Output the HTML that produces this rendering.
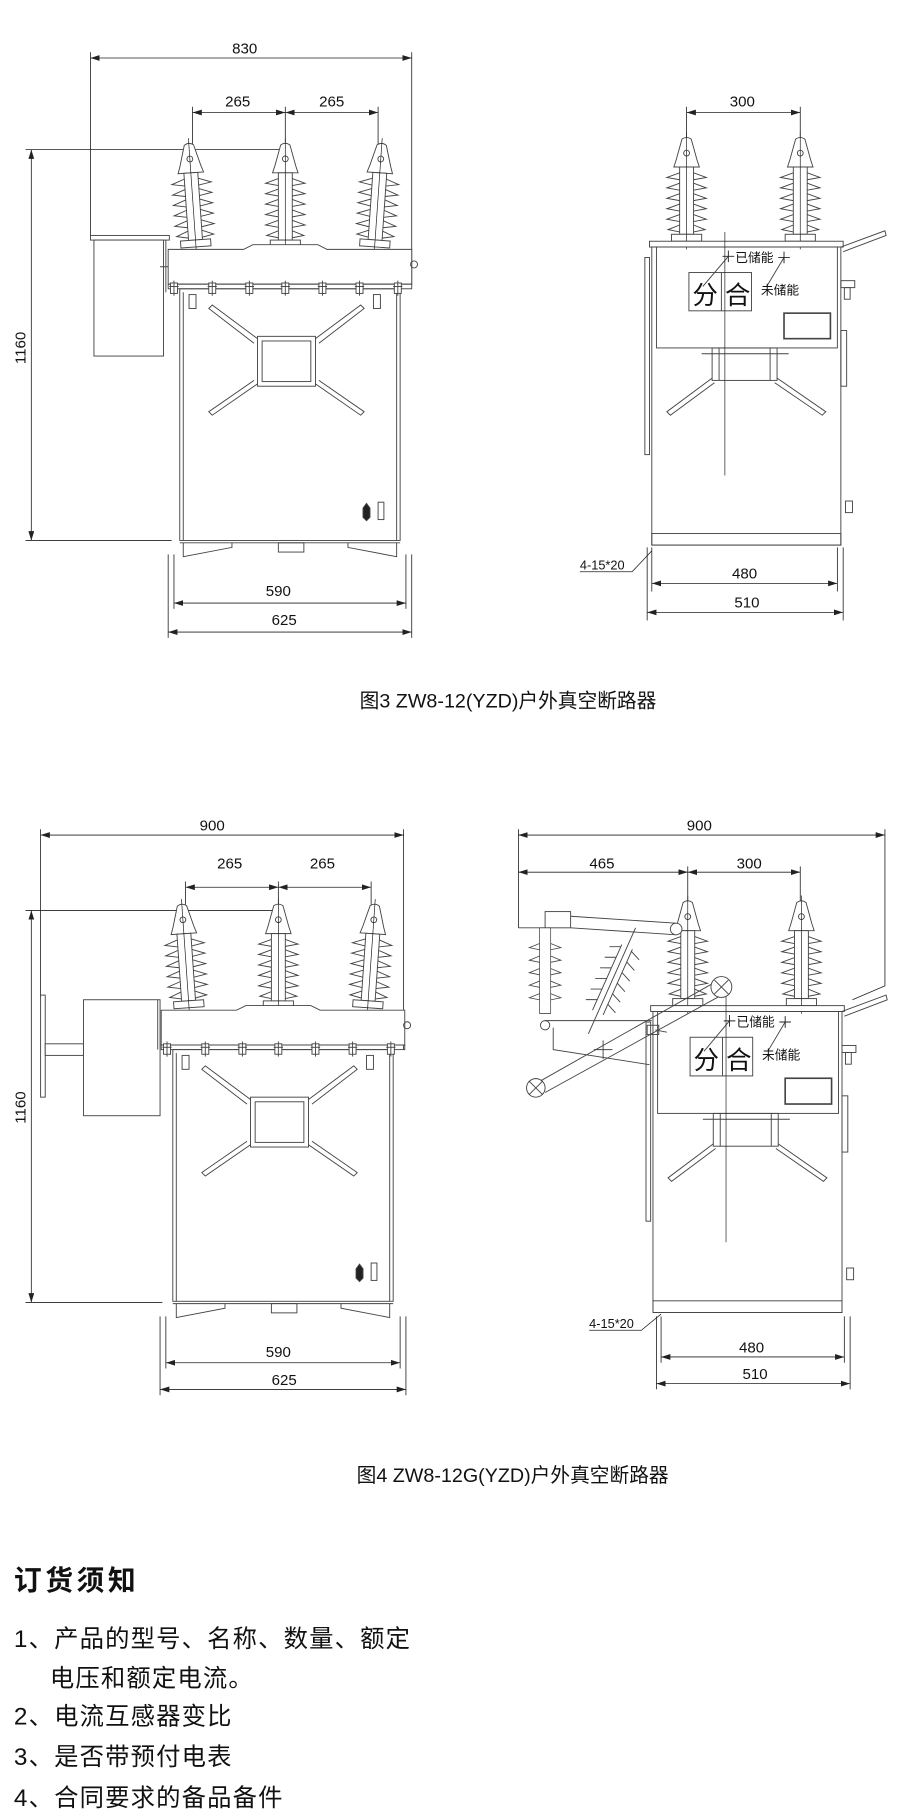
<!DOCTYPE html>
<html><head><meta charset="utf-8"><style>
html,body{margin:0;padding:0;background:#fff;}
svg{display:block;}
text{font-family:"Liberation Sans","Noto Sans CJK SC",sans-serif;fill:#111;}
</style></head><body>
<svg width="900" height="1816" viewBox="0 0 776 1565.8" xmlns="http://www.w3.org/2000/svg">
<defs>
<marker id="a" markerWidth="8" markerHeight="5" refX="8" refY="2.5" orient="auto-start-reverse" markerUnits="userSpaceOnUse"><path d="M0,0 L8,2.5 L0,5 z" fill="#222"/></marker>
<g id="ins" fill="#fff" stroke="#444" stroke-width="0.8">
 <path d="M-4,0 Q0,-3 4,0 L9,18 L11,24 L-11,24 L-9,18 Z"/>
 <rect x="-6" y="24" width="12" height="58"/>
 <path fill="none" d="M-6,29 L-17,33 L-6,35 M6,29 L17,33 L6,35 M-6,38 L-17,42 L-6,44 M6,38 L17,42 L6,44 M-6,47 L-17,51 L-6,53 M6,47 L17,51 L6,53 M-6,56 L-17,60 L-6,62 M6,56 L17,60 L6,62 M-6,65 L-17,69 L-6,71 M6,65 L17,69 L6,71 M-6,74 L-16,78 L-6,80 M6,74 L16,78 L6,80"/>
 <rect x="-13" y="82" width="26" height="6"/>
 <circle cx="0" cy="12" r="2.5"/>
 <line x1="0" y1="-6" x2="0" y2="95" stroke="#222" stroke-width="0.6"/>
</g>
<g id="bolt" stroke="#444" stroke-width="0.8" fill="#fff"><rect x="-3" y="-3" width="6" height="9"/><line x1="-4" y1="0" x2="4" y2="0"/><line x1="0" y1="-5" x2="0" y2="8"/></g>
<g id="front">
 <use href="#ins" x="166" y="125" transform="rotate(-4 166 170)"/>
 <use href="#ins" x="246" y="125"/>
 <use href="#ins" x="326" y="125" transform="rotate(4 326 170)"/>
 <g fill="none" stroke="#444" stroke-width="0.8">
  <path d="M145,245 L145,215 L210,215 L218,211 L274,211 L282,215 L355,215 L355,245 Z" fill="#fff"/>
  <rect x="145" y="245" width="210" height="4"/>
  <rect x="155" y="249" width="190" height="217"/>
  <line x1="158" y1="252" x2="158" y2="466"/><line x1="342" y1="252" x2="342" y2="466"/>
  <rect x="222" y="290" width="50" height="43"/><rect x="226" y="294" width="42" height="35"/>
  <path d="M222,292 L183,263 L180,266 L219,296 M272,292 L311,263 L314,266 L275,296 M222,331 L183,358 L180,355 L219,328 M272,331 L311,358 L314,355 L275,328"/>
  <rect x="163" y="254" width="6" height="12"/><rect x="322" y="254" width="6" height="12"/>
  <rect x="326" y="433" width="5" height="15"/>
  <path d="M313,438 l3,-4 l3,4 v8 l-3,3 l-3,-3z" fill="#222"/>
  <line x1="155" y1="468" x2="345" y2="468"/>
  <path d="M158,468 L158,480 L200,472 L200,468 M342,468 L342,480 L300,472 L300,468"/>
  <rect x="240" y="468" width="22" height="8"/>
 </g>
 <use href="#bolt" x="150" y="247"/><use href="#bolt" x="183" y="247"/><use href="#bolt" x="215" y="247"/><use href="#bolt" x="246" y="247"/><use href="#bolt" x="278" y="247"/><use href="#bolt" x="310" y="247"/><use href="#bolt" x="343" y="247"/>
 <circle cx="357" cy="228" r="3" fill="none" stroke="#444" stroke-width="0.8"/>
</g>
<g id="side">
 <use href="#ins" x="592" y="120"/>
 <use href="#ins" x="690" y="120"/>
 <g fill="none" stroke="#444" stroke-width="0.8">
  <rect x="560" y="208" width="167" height="5" fill="#fff"/>
  <rect x="562" y="213" width="163" height="257"/>
  <rect x="556" y="222" width="4" height="170"/>
  <rect x="566" y="213" width="156" height="87"/>
  <rect x="594" y="235" width="54" height="33"/><line x1="622" y1="235" x2="622" y2="268"/>
  <rect x="676" y="270" width="40" height="22" stroke-width="1.4"/>
  <path d="M725,213 L763,199 L764,203 L727,217"/>
  <rect x="725" y="242" width="12" height="6"/><rect x="728" y="248" width="5" height="10"/>
  <rect x="725" y="285" width="5" height="48"/>
  <rect x="729" y="432" width="6" height="10"/>
  <rect x="614" y="300" width="56" height="28"/><line x1="620" y1="300" x2="620" y2="328"/><line x1="664" y1="300" x2="664" y2="328"/>
  <path d="M614,326 L575,355 L578,358 L616,330 M670,326 L712,355 L709,358 L668,330"/>
  <line x1="605" y1="305" x2="680" y2="305"/>
  <rect x="562" y="460" width="163" height="10"/>
  <path d="M628,221 L606,247 M676,222 L661,247"/>
  <path d="M623,221 h10 M628,216 v10 M671,222 h10 M676,217 v10" stroke="#222"/>
 </g>
 <line x1="625" y1="200" x2="625" y2="410" stroke="#222" stroke-width="0.6"/>
 <text x="608" y="262" font-size="22" text-anchor="middle">分</text>
 <text x="636" y="262" font-size="22" text-anchor="middle">合</text>
 <text x="634" y="226" font-size="11">已储能</text>
 <text x="656" y="254" font-size="11">未储能</text>
</g>
</defs>

<g stroke="#222" stroke-width="0.7" fill="none">
<path d="M78,45 V205 M355,45 V245 M166,92 V125 M246,92 V125 M326,92 V125 M22,129 H245 M22,466 H148 M150,478 V525 M350,478 V525 M145,478 V550 M355,478 V550"/>
<line x1="78" y1="50" x2="355" y2="50" marker-start="url(#a)" marker-end="url(#a)"/>
<line x1="166" y1="97" x2="246" y2="97" marker-start="url(#a)" marker-end="url(#a)"/>
<line x1="246" y1="97" x2="326" y2="97" marker-start="url(#a)" marker-end="url(#a)"/>
<line x1="27" y1="129" x2="27" y2="466" marker-start="url(#a)" marker-end="url(#a)"/>
<line x1="150" y1="520" x2="350" y2="520" marker-start="url(#a)" marker-end="url(#a)"/>
<line x1="145" y1="545" x2="355" y2="545" marker-start="url(#a)" marker-end="url(#a)"/>
<path d="M592,92 V210 M690,92 V210 M562,472 V510 M722,472 V510 M558,472 V535 M727,472 V535 M500,493 H545 L562,475"/>
<line x1="592" y1="97" x2="690" y2="97" marker-start="url(#a)" marker-end="url(#a)"/>
<line x1="562" y1="503" x2="722" y2="503" marker-start="url(#a)" marker-end="url(#a)"/>
<line x1="558" y1="528" x2="727" y2="528" marker-start="url(#a)" marker-end="url(#a)"/>
<path d="M35,715 V860 M348,715 V905 M160,760 V780 M240,760 V780 M320,760 V780 M22,785 H240 M22,1123 H140 M143,1135 V1180 M345,1135 V1180 M138,1135 V1203 M350,1135 V1203"/>
<line x1="35" y1="720" x2="348" y2="720" marker-start="url(#a)" marker-end="url(#a)"/>
<line x1="160" y1="765" x2="240" y2="765" marker-start="url(#a)" marker-end="url(#a)"/>
<line x1="240" y1="765" x2="320" y2="765" marker-start="url(#a)" marker-end="url(#a)"/>
<line x1="27" y1="785" x2="27" y2="1123" marker-start="url(#a)" marker-end="url(#a)"/>
<line x1="143" y1="1175" x2="345" y2="1175" marker-start="url(#a)" marker-end="url(#a)"/>
<line x1="138" y1="1198" x2="350" y2="1198" marker-start="url(#a)" marker-end="url(#a)"/>
<path d="M447,715 V800 M763,715 V850 L735,862 M593,747 V785 M690,747 V785 M570,1135 V1175 M728,1135 V1175 M566,1135 V1198 M733,1135 V1198 M508,1147 H553 L570,1133"/>
<line x1="447" y1="720" x2="763" y2="720" marker-start="url(#a)" marker-end="url(#a)"/>
<line x1="447" y1="752" x2="593" y2="752" marker-start="url(#a)" marker-end="url(#a)"/>
<line x1="593" y1="752" x2="690" y2="752" marker-start="url(#a)" marker-end="url(#a)"/>
<line x1="570" y1="1170" x2="728" y2="1170" marker-start="url(#a)" marker-end="url(#a)"/>
<line x1="566" y1="1193" x2="733" y2="1193" marker-start="url(#a)" marker-end="url(#a)"/>
</g>

<g fill="#fff" stroke="#444" stroke-width="0.8">
 <rect x="78" y="203" width="68" height="4"/>
 <rect x="81" y="207" width="60" height="100"/>
 <line x1="143" y1="207" x2="143" y2="252"/>
 <line x1="138" y1="230" x2="155" y2="230"/>
</g>
<use href="#front"/>
<use href="#side"/>

<g fill="#fff" stroke="#444" stroke-width="0.8">
 <rect x="35" y="858" width="4" height="88"/>
 <rect x="39" y="900" width="33" height="10"/>
 <rect x="72" y="862" width="66" height="100"/>
 <line x1="136" y1="862" x2="136" y2="905"/>
</g>
<use href="#front" transform="translate(-6,656)"/>
<use href="#side" transform="translate(1,657) scale(1,1.01)"/>
<g fill="none" stroke="#444" stroke-width="0.8">
 <path d="M447,800 H470"/>
 <rect x="470" y="786" width="22" height="14" fill="#fff"/>
 <path d="M492,790 L583,796 M492,800 L583,806"/>
 <circle cx="583" cy="801" r="5" fill="#fff"/>
 <g transform="translate(470,800) scale(0.8,0.9)">
  <rect x="-6" y="0" width="12" height="82" fill="#fff"/>
  <path d="M-6,15 L-17,19 L-6,21 M6,15 L17,19 L6,21 M-6,27 L-17,31 L-6,33 M6,27 L17,31 L6,33 M-6,39 L-17,43 L-6,45 M6,39 L17,43 L6,45 M-6,51 L-17,55 L-6,57 M6,51 L17,55 L6,57 M-6,63 L-17,67 L-6,69 M6,63 L17,67 L6,69"/>
 </g>
 <circle cx="470" cy="884" r="4" fill="#fff"/>
 <g transform="translate(548,800) rotate(24)">
  <line x1="0" y1="0" x2="0" y2="100"/>
  <path d="M-5,20 L-14,24 M5,20 L14,24 M-5,30 L-14,34 M5,30 L14,34 M-5,40 L-14,44 M5,40 L14,44 M-5,50 L-14,54 M5,50 L14,54 M-5,60 L-14,64 M5,60 L14,64 M-5,70 L-14,74 M5,70 L14,74"/>
  <path d="M-5,18 V80 M5,18 V80"/>
 </g>
 <path d="M470,880 H562 M477,886 V905 L560,918 M565,888 L575,890"/>
 <path d="M466,932 L618,846 M470,942 L624,857"/>
 <circle cx="462" cy="938" r="8" fill="#fff"/>
 <path d="M456,932 l12,12 M468,932 l-12,12"/>
 <circle cx="622" cy="851" r="9" fill="#fff"/>
 <path d="M616,845 l12,12 M628,845 l-12,12"/>
 <path d="M512,905 h16 M520,897 v16"/>
 <rect x="558" y="884" width="10" height="8"/>
</g>

<g font-size="13" text-anchor="middle">
 <text x="211" y="46">830</text>
 <text x="205" y="92">265</text>
 <text x="286" y="92">265</text>
 <text x="22" y="300" transform="rotate(-90 22 300)">1160</text>
 <text x="240" y="514">590</text>
 <text x="245" y="539">625</text>
 <text x="640" y="92">300</text>
 <text x="642" y="499">480</text>
 <text x="644" y="524">510</text>
 <text x="183" y="716">900</text>
 <text x="198" y="749">265</text>
 <text x="278" y="749">265</text>
 <text x="22" y="955" transform="rotate(-90 22 955)">1160</text>
 <text x="240" y="1170">590</text>
 <text x="245" y="1194">625</text>
 <text x="603" y="716">900</text>
 <text x="519" y="749">465</text>
 <text x="646" y="749">300</text>
 <text x="648" y="1166">480</text>
 <text x="651" y="1189">510</text>
</g>
<text x="500" y="491" font-size="11">4-15*20</text>
<text x="508" y="1145" font-size="11">4-15*20</text>

<text x="438" y="610" font-size="17" text-anchor="middle">图3  ZW8-12(YZD)户外真空断路器</text>
<text x="442" y="1278" font-size="17" text-anchor="middle">图4 ZW8-12G(YZD)户外真空断路器</text>

<text x="12" y="1371" font-size="24" font-weight="bold" letter-spacing="3">订货须知</text>
<g font-size="21" letter-spacing="1">
 <text x="12" y="1420">1、产品的型号、名称、数量、额定</text>
 <text x="43" y="1454">电压和额定电流。</text>
 <text x="12" y="1487">2、电流互感器变比</text>
 <text x="12" y="1522">3、是否带预付电表</text>
 <text x="12" y="1557">4、合同要求的备品备件</text>
</g>
</svg>
</body></html>
